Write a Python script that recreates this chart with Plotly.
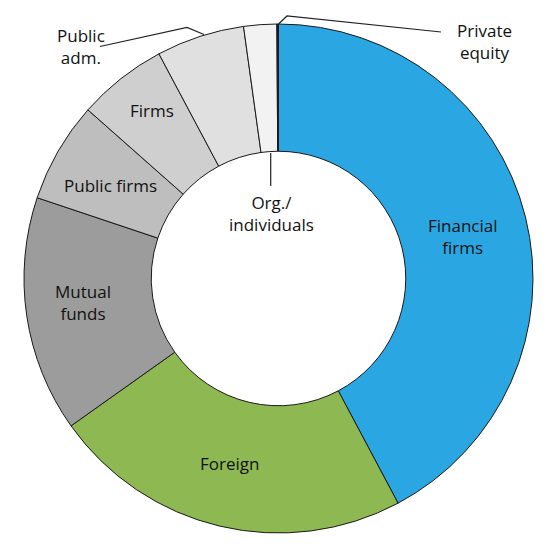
import plotly.graph_objects as go

W, H = 560, 560

# slice data, clockwise from 12 o'clock
categories = ["Financial firms", "Foreign", "Mutual funds", "Public firms",
              "Firms", "Public adm.", "Org./individuals", "Private equity"]
shares = [42.3, 23.0, 15.0, 6.4, 5.7, 5.6, 2.1, 0.1]
colors = ["#2AA7E3", "#8DB852", "#9C9C9C", "#BEBEBE",
          "#CFCFCF", "#E0E0E0", "#F2F2F2", "#1C1C30"]

# label text and where it sits (pixels in the 560x560 picture)
label_text = ["Financial<br>firms", "Foreign", "Mutual<br>funds", "Public firms",
              "Firms", "Public<br>adm.", "Org./<br>individuals", "Private<br>equity"]
label_xy = [(463, 236), (229, 463), (83, 302), (110, 186),
            (152, 111), (81, 46), (271, 213), (484, 42)]

# leader lines for the small slices (pixels)
leaders = [
    [(100, 46.5), (187, 27.5), (204, 34.5)],
    [(270.7, 153), (270.7, 186)],
    [(278.5, 24), (287, 16), (441, 32)],
]


def px(x, y):
    return x / W, 1 - y / H


fig = go.Figure()
fig.add_trace(go.Pie(
    labels=categories,
    values=shares,
    sort=False,
    direction="clockwise",
    rotation=0,
    hole=0.5,
    marker=dict(colors=colors, line=dict(color="#1a1a1a", width=1)),
    textinfo="none",
    hoverinfo="label+percent",
    domain=dict(x=[24 / W, 533 / W], y=[1 - 533 / H, 1 - 24 / H]),
    showlegend=False,
))

for txt, (x, y) in zip(label_text, label_xy):
    ax, ay = px(x, y)
    fig.add_annotation(x=ax, y=ay, xref="paper", yref="paper", text=txt,
                       showarrow=False, xanchor="center", yanchor="middle",
                       font=dict(size=17, color="#111111"))

for pts in leaders:
    p = [px(x, y) for x, y in pts]
    path = "M " + " L ".join(f"{a},{b}" for a, b in p)
    fig.add_shape(type="path", path=path, xref="paper", yref="paper",
                  line=dict(color="#222222", width=1.2))

fig.update_layout(
    width=W, height=H,
    margin=dict(l=0, r=0, t=0, b=0),
    paper_bgcolor="white",
    plot_bgcolor="white",
    font=dict(family="Open Sans, sans-serif", size=17),
)

# drop the browser's default 8px body margin so the chart sits at 0,0
fig.write_html("out.html", config={"displayModeBar": False},
               post_script="document.body.style.margin='0';")
